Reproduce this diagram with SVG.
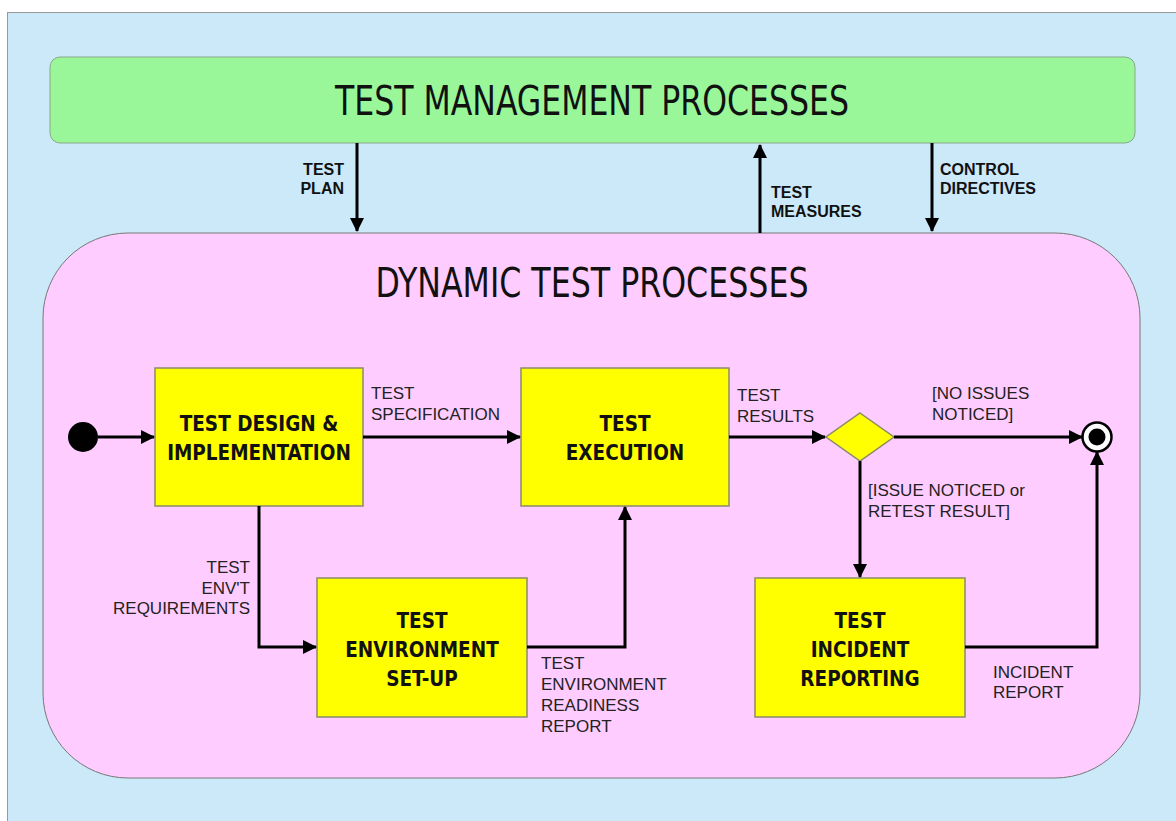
<svg xmlns="http://www.w3.org/2000/svg" width="1176" height="821" viewBox="0 0 1176 821">
<style>
.title{font-family:"DejaVu Sans Condensed","DejaVu Sans",sans-serif;font-size:40px;fill:#111;text-anchor:middle}
.box{fill:#ffff00;stroke:#8a8a6a;stroke-width:1.5}
.bt{font-family:"DejaVu Sans Condensed","DejaVu Sans",sans-serif;font-weight:bold;font-size:20.5px;fill:#111;text-anchor:middle}
.lt{font-family:"Liberation Sans",Arial,sans-serif;font-weight:bold;font-size:16px;fill:#111}
.lp{font-family:"Liberation Sans",Arial,sans-serif;font-size:17px;fill:#222}
.c{fill:none;stroke:#000;stroke-width:3}
</style>
<defs>
<marker id="ah" viewBox="0 0 14 14" refX="13" refY="7" markerWidth="14" markerHeight="14" markerUnits="userSpaceOnUse" orient="auto">
<path d="M0,0 L14,7 L0,14 Z" fill="#000"/>
</marker>
</defs>
<rect x="0" y="0" width="1176" height="821" fill="#ffffff"/>
<rect x="7.5" y="12.5" width="1180" height="820" fill="#cce9f9" stroke="#999" stroke-width="1"/>

<g id="test-management">
<rect x="50" y="57" width="1085" height="86" rx="10" fill="#99f799" stroke="#8aa88a" stroke-width="1"/>
<text class="title" x="592" y="115" textLength="514" lengthAdjust="spacingAndGlyphs">TEST MANAGEMENT PROCESSES</text>
</g>

<g id="dynamic-test">
<rect x="43" y="233" width="1097" height="545" rx="85" fill="#ffccff" stroke="#777" stroke-width="1"/>
<text class="title" x="592" y="297" textLength="433" lengthAdjust="spacingAndGlyphs">DYNAMIC TEST PROCESSES</text>
</g>

<g id="start">
<circle cx="83" cy="437" r="15" fill="#000"/>
</g>

<g id="design">
<rect class="box" x="155" y="368" width="208" height="138"/>
<text class="bt" x="259" y="431">TEST DESIGN &amp;</text>
<text class="bt" x="259" y="460">IMPLEMENTATION</text>
</g>

<g id="execution">
<rect class="box" x="521" y="368" width="208" height="138"/>
<text class="bt" x="625" y="431">TEST</text>
<text class="bt" x="625" y="460">EXECUTION</text>
</g>

<g id="environment">
<rect class="box" x="317" y="578" width="210" height="139"/>
<text class="bt" x="422" y="628">TEST</text>
<text class="bt" x="422" y="657">ENVIRONMENT</text>
<text class="bt" x="422" y="686">SET-UP</text>
</g>

<g id="incident">
<rect class="box" x="755" y="578" width="210" height="139"/>
<text class="bt" x="860" y="628">TEST</text>
<text class="bt" x="860" y="657">INCIDENT</text>
<text class="bt" x="860" y="686">REPORTING</text>
</g>

<g id="decision">
<polygon points="860,413 894,437 860,461 826,437" fill="#ffff00" stroke="#8a8a6a" stroke-width="1.5"/>
</g>

<g id="end">
<circle cx="1097" cy="437" r="14.5" fill="#fff" stroke="#000" stroke-width="2.5"/>
<circle cx="1097" cy="437" r="8.5" fill="#000"/>
</g>

<g id="connectors">
<line class="c" x1="357" y1="143" x2="357" y2="231" marker-end="url(#ah)"/>
<line class="c" x1="760" y1="233" x2="760" y2="145" marker-end="url(#ah)"/>
<line class="c" x1="932" y1="143" x2="932" y2="231" marker-end="url(#ah)"/>
<line class="c" x1="98" y1="437" x2="154" y2="437" marker-end="url(#ah)"/>
<line class="c" x1="363" y1="437" x2="520" y2="437" marker-end="url(#ah)"/>
<line class="c" x1="729" y1="437" x2="825" y2="437" marker-end="url(#ah)"/>
<line class="c" x1="894" y1="437" x2="1082" y2="437" marker-end="url(#ah)"/>
<line class="c" x1="860" y1="461" x2="860" y2="577" marker-end="url(#ah)"/>
<polyline class="c" points="259,506 259,647 316,647" marker-end="url(#ah)"/>
<polyline class="c" points="527,647 625,647 625,507" marker-end="url(#ah)"/>
<polyline class="c" points="965,647 1097,647 1097,452" marker-end="url(#ah)"/>

<text class="lt" x="344" y="175" text-anchor="end">TEST</text>
<text class="lt" x="344" y="194" text-anchor="end">PLAN</text>
<text class="lt" x="771" y="198">TEST</text>
<text class="lt" x="771" y="217">MEASURES</text>
<text class="lt" x="940" y="175">CONTROL</text>
<text class="lt" x="940" y="194">DIRECTIVES</text>

<text class="lp" x="371" y="399">TEST</text>
<text class="lp" x="371" y="420">SPECIFICATION</text>
<text class="lp" x="250" y="573" text-anchor="end">TEST</text>
<text class="lp" x="250" y="594" text-anchor="end">ENV'T</text>
<text class="lp" x="250" y="614" text-anchor="end">REQUIREMENTS</text>
<text class="lp" x="541" y="669">TEST</text>
<text class="lp" x="541" y="690">ENVIRONMENT</text>
<text class="lp" x="541" y="711">READINESS</text>
<text class="lp" x="541" y="732">REPORT</text>
<text class="lp" x="737" y="401">TEST</text>
<text class="lp" x="737" y="422">RESULTS</text>
<text class="lp" x="932" y="399">[NO ISSUES</text>
<text class="lp" x="932" y="420">NOTICED]</text>
<text class="lp" x="868" y="496">[ISSUE NOTICED or</text>
<text class="lp" x="868" y="517">RETEST RESULT]</text>
<text class="lp" x="993" y="678">INCIDENT</text>
<text class="lp" x="993" y="698">REPORT</text>
</g>
</svg>
